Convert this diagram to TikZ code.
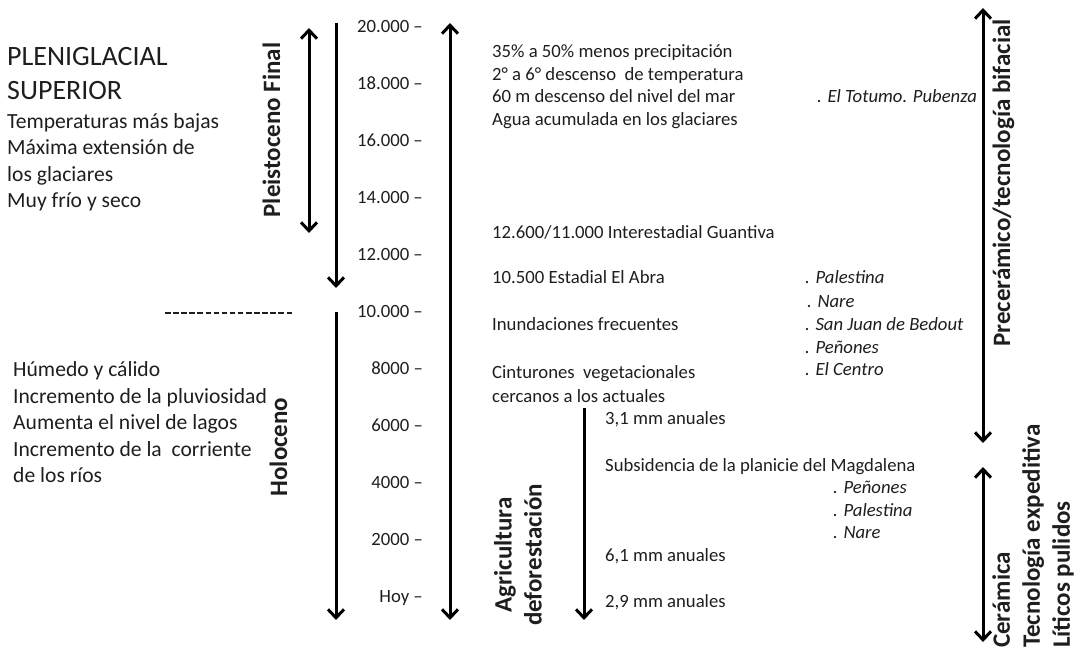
\documentclass[tikz,border=0pt]{standalone}
\usepackage{fontspec}
\setmainfont{Carlito}
\usetikzlibrary{arrows.meta}
\definecolor{txt}{HTML}{1E1E1E}
\begin{document}
\begin{tikzpicture}[x=1pt,y=-1pt,
  every node/.style={inner sep=0pt, text=txt},
  mid/.style={font=\fontsize{18.7}{22.5}\selectfont, anchor=base west},
  site/.style={font=\fontsize{18.7}{22.5}\selectfont\itshape, anchor=base west},
  tick/.style={font=\fontsize{18.7}{22.5}\selectfont, anchor=base east},
  lft/.style={font=\fontsize{21.6}{26.5}\selectfont, anchor=base west},
  ttl/.style={font=\fontsize{28}{33}\selectfont, anchor=base west},
  vlab/.style={font=\fontsize{25}{30}\selectfont\bfseries, rotate=90},
  tipb/.tip={Straight Barb[length=8.5pt,width=16pt]},
  arr/.style={line width=3pt, -tipb},
  darr/.style={line width=3pt, tipb-tipb}]
\useasboundingbox (0,0) rectangle (1080,654);

% left column
\node[ttl] (pl1) at (7,65) {PLENIGLACIAL};
\node[ttl] (pl2) at (7,99) {SUPERIOR};
\node[lft] (l1) at (7,128) {Temperaturas más bajas};
\node[lft] (l2) at (7,154.5) {Máxima extensión de};
\node[lft] (l3) at (7,181) {los glaciares};
\node[lft] (l4) at (7,207.5) {Muy frío y seco};
\draw[txt, line width=1.3pt, dash pattern=on 5.5pt off 2.6pt] (165,313) -- (294,313);
\node[lft] (h1) at (13,376.5) {Húmedo y cálido};
\node[lft] (h2) at (13,403) {Incremento de la pluviosidad};
\node[lft] (h3) at (13,429.5) {Aumenta el nivel de lagos};
\node[lft] (h4) at (13,456) {Incremento de la\ \ corriente};
\node[lft] (h5) at (13,482.5) {de los ríos};

% vertical labels
\node[vlab, anchor=base] (pf) at (280,130) {Pleistoceno Final};
\node[vlab, anchor=base] (ho) at (287,447) {Holoceno};
\node[vlab, anchor=base] (pc) at (1010,183) {Precerámico/tecnología bifacial};
\node[vlab, align=center] (ag) at (518,555) {Agricultura\\deforestación};
\node[vlab, align=left, anchor=west] (ce) at (1033,648) {Cerámica\\Tecnología expeditiva\\Líticos pulidos};

% time scale
\foreach \lab [count=\i from 0] in {20.000,18.000,16.000,14.000,12.000,10.000,8000,6000,4000,2000,Hoy}
  \node[tick] (t\i) at (423,{32.6+57*\i}) {\lab\ –};

% arrows
\coordinate (a1t) at (309,28);  \coordinate (a1b) at (309,233);
\coordinate (a2t) at (336,23);  \coordinate (a2b) at (336,288);
\coordinate (a3t) at (336,312); \coordinate (a3b) at (336,620);
\coordinate (a4t) at (450,23);  \coordinate (a4b) at (450,620);
\coordinate (a5t) at (584,408); \coordinate (a5b) at (584,620);
\coordinate (a6t) at (983,8);   \coordinate (a6b) at (983,443);
\coordinate (a7t) at (983,467); \coordinate (a7b) at (983,642);
\draw[darr] (a1t) -- (a1b);
\draw[arr] (a2t) -- (a2b);
\draw[arr] (a3t) -- (a3b);
\draw[darr] (a4t) -- (a4b);
\draw[arr] (a5t) -- (a5b);
\draw[darr] (a6t) -- (a6b);
\draw[darr] (a7t) -- (a7b);

% middle texts
\node[mid] (m1) at (492,57.6) {35\% a 50\% menos precipitación};
\node[mid] (m2) at (492,80) {2° a 6° descenso\ \ de temperatura};
\node[mid] (m3) at (492,102.6) {60 m descenso del nivel del mar};
\node[mid] (m4) at (492,125) {Agua acumulada en los glaciares};
\node[mid] (m5) at (492,238.6) {12.600/11.000 Interestadial Guantiva};
\node[mid] (m6) at (492,283.6) {10.500 Estadial El Abra};
\node[mid] (m7) at (492,330) {Inundaciones frecuentes};
\node[mid] (m8) at (492,378.6) {Cinturones\ \ vegetacionales};
\node[mid] (m9) at (492,402.6) {cercanos a los actuales};
\node[mid] (m10) at (605,424.6) {3,1 mm anuales};
\node[mid] (m11) at (605,471.6) {Subsidencia de la planicie del Magdalena};
\node[mid] (m12) at (605,561.6) {6,1 mm anuales};
\node[mid] (m13) at (605,607.6) {2,9 mm anuales};

% sites
\node[site] (s1) at (817,102.6) {. El Totumo. Pubenza};
\node[site] (s2) at (805,283.6) {. Palestina};
\node[site] (s3) at (807,307.6) {. Nare};
\node[site] (s4) at (805,330.6) {. San Juan de Bedout};
\node[site] (s5) at (805,353.6) {. Peñones};
\node[site] (s6) at (805,375.6) {. El Centro};
\node[site] (s7) at (833,493.6) {. Peñones};
\node[site] (s8) at (833,516.6) {. Palestina};
\node[site] (s9) at (833,538.6) {. Nare};
\end{tikzpicture}
\end{document}
